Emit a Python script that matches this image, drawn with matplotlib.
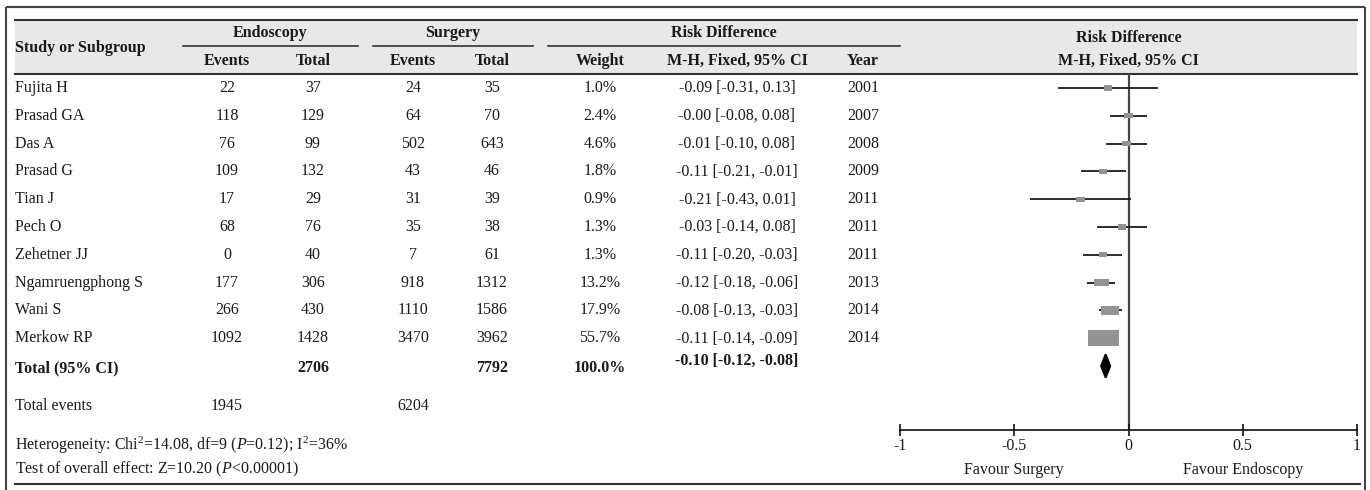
import matplotlib
matplotlib.use("Agg")
import matplotlib.pyplot as plt
from matplotlib.patches import Rectangle, Polygon

plt.rcParams['font.family'] = ['Liberation Serif', 'DejaVu Serif']
plt.rcParams['axes.unicode_minus'] = False
plt.rcParams['mathtext.fontset'] = 'custom'
plt.rcParams['mathtext.rm'] = 'Liberation Serif'
plt.rcParams['mathtext.it'] = 'Liberation Serif:italic'
plt.rcParams['mathtext.bf'] = 'Liberation Serif:bold'

# ---------------- data ----------------
studies = ["Fujita H", "Prasad GA", "Das A", "Prasad G", "Tian J", "Pech O",
           "Zehetner JJ", "Ngamruengphong S", "Wani S", "Merkow RP"]
endo_events = [22, 118, 76, 109, 17, 68, 0, 177, 266, 1092]
endo_total = [37, 129, 99, 132, 29, 76, 40, 306, 430, 1428]
surg_events = [24, 64, 502, 43, 31, 35, 7, 918, 1110, 3470]
surg_total = [35, 70, 643, 46, 39, 38, 61, 1312, 1586, 3962]
weights = [1.0, 2.4, 4.6, 1.8, 0.9, 1.3, 1.3, 13.2, 17.9, 55.7]
rd = [-0.09, -0.00, -0.01, -0.11, -0.21, -0.03, -0.11, -0.12, -0.08, -0.11]
ci_low = [-0.31, -0.08, -0.10, -0.21, -0.43, -0.14, -0.20, -0.18, -0.13, -0.14]
ci_high = [0.13, 0.08, 0.08, -0.01, 0.01, 0.08, -0.03, -0.06, -0.03, -0.09]
years = [2001, 2007, 2008, 2009, 2011, 2011, 2011, 2013, 2014, 2014]

total_endo = 2706
total_surg = 7792
total_weight = "100.0%"
total_rd = -0.10
total_low = -0.12
total_high = -0.08
total_events_endo = 1945
total_events_surg = 6204
heterogeneity = r"Heterogeneity: Chi$^2$=14.08, df=9 ($P$=0.12); I$^2$=36%"
overall = r"Test of overall effect: Z=10.20 ($P$<0.00001)"

tick_values = [-1, -0.5, 0, 0.5, 1]
tick_labels = ["-1", "-0.5", "0", "0.5", "1"]
favour_left = "Favour Surgery"
favour_right = "Favour Endoscopy"

# ---------------- layout ----------------
W, H = 1370, 490
fig = plt.figure(figsize=(W / 100, H / 100), dpi=100)
ax0 = fig.add_axes([0, 0, 1, 1])
ax0.set_xlim(0, W)
ax0.set_ylim(H, 0)
ax0.axis('off')

FS = 11.5
TXT = '#1a1a1a'
LINE = '#333333'

row0, dy = 88, 27.8
def row_y(i):
    return row0 + dy * i

# outer frame
ax0.plot([6, 6], [7, H], color='#444444', lw=1.5, solid_capstyle='butt')
ax0.plot([6, 1365], [7, 7], color='#444444', lw=1.5, solid_capstyle='butt')
ax0.plot([1365, 1365], [7, H], color='#444444', lw=1.5, solid_capstyle='butt')

# header band
HB_TOP, HB_BOT = 20, 74
ax0.add_patch(Rectangle((15, HB_TOP), 1342, HB_BOT - HB_TOP, facecolor='#e8e8e8', edgecolor='none'))
ax0.plot([15, 1357], [HB_TOP, HB_TOP], color=LINE, lw=1.5)
ax0.plot([15, 1357], [HB_BOT, HB_BOT], color=LINE, lw=1.5)
ax0.plot([15, 1360], [484, 484], color=LINE, lw=1.5)

# group underlines
ax0.plot([183, 358], [46, 46], color=LINE, lw=1.2)
ax0.plot([373, 533], [46, 46], color=LINE, lw=1.2)
ax0.plot([548, 900], [46, 46], color=LINE, lw=1.2)

# column x centers
x_name = 15
x_ee, x_et, x_se, x_st = 227, 313, 413, 492
x_w, x_ci, x_yr = 600, 737, 863

hb = dict(fontsize=FS, fontweight='bold', color=TXT, va='center', ha='center')
ax0.text(x_name, 48, "Study or Subgroup", **{**hb, 'ha': 'left'})
ax0.text((183 + 358) / 2, 33, "Endoscopy", **hb)
ax0.text((373 + 533) / 2, 33, "Surgery", **hb)
ax0.text((548 + 900) / 2, 33, "Risk Difference", **hb)
for x, s in [(x_ee, "Events"), (x_et, "Total"), (x_se, "Events"), (x_st, "Total"),
             (x_w, "Weight"), (x_ci, "M-H, Fixed, 95% CI"), (x_yr, "Year")]:
    ax0.text(x, 61, s, **hb)
ax0.text(1128.5, 38, "Risk Difference", **hb)
ax0.text(1128.5, 61, "M-H, Fixed, 95% CI", **hb)

# body rows
nb = dict(fontsize=FS, color=TXT, va='center', ha='center')
for i, name in enumerate(studies):
    y = row_y(i)
    ax0.text(x_name, y, name, **{**nb, 'ha': 'left'})
    ax0.text(x_ee, y, str(endo_events[i]), **nb)
    ax0.text(x_et, y, str(endo_total[i]), **nb)
    ax0.text(x_se, y, str(surg_events[i]), **nb)
    ax0.text(x_st, y, str(surg_total[i]), **nb)
    ax0.text(x_w, y, f"{weights[i]:.1f}%", **nb)
    ax0.text(x_ci, y, f"{rd[i]:.2f} [{ci_low[i]:.2f}, {ci_high[i]:.2f}]", **nb)
    ax0.text(x_yr, y, str(years[i]), **nb)

# total row
yt = 368
bb = dict(fontsize=FS, fontweight='bold', color=TXT, va='center', ha='center')
ax0.text(x_name, yt, "Total (95% CI)", **{**bb, 'ha': 'left'})
ax0.text(x_et, yt, str(total_endo), **bb)
ax0.text(x_st, yt, str(total_surg), **bb)
ax0.text(x_w, yt, total_weight, **bb)
ax0.text(x_ci, yt - 7, f"{total_rd:.2f} [{total_low:.2f}, {total_high:.2f}]", **bb)

# footer rows
ax0.text(x_name, 406, "Total events", **{**nb, 'ha': 'left'})
ax0.text(x_ee, 406, str(total_events_endo), **nb)
ax0.text(x_se, 406, str(total_events_surg), **nb)
ax0.text(x_name, 445, heterogeneity, **{**nb, 'ha': 'left'})
ax0.text(x_name, 469, overall, **{**nb, 'ha': 'left'})

# ---------------- forest plot ----------------
px_left, px_right, px_top, px_axis = 900, 1357, HB_BOT, 430
axf = fig.add_axes([px_left / W, (H - px_axis) / H,
                    (px_right - px_left) / W, (px_axis - px_top) / H])
axf.set_xlim(-1, 1)
axf.set_ylim((px_axis - row0) / dy, (px_top - row0) / dy)
axf.patch.set_alpha(0)
for s in ['top', 'left', 'right']:
    axf.spines[s].set_visible(False)
axf.spines['bottom'].set_color('#111111')
axf.spines['bottom'].set_linewidth(1.2)
axf.set_yticks([])
axf.set_xticks(tick_values)
axf.set_xticklabels(tick_labels)
axf.tick_params(axis='x', direction='inout', length=9, width=1.2,
                colors='#111111', labelsize=FS, pad=1.5, labelcolor=TXT)

axf.axvline(0, color='#444444', lw=1.6, zorder=1)

for i in range(len(studies)):
    axf.plot([ci_low[i], ci_high[i]], [i, i], color='#1a1a1a', lw=1.3,
             solid_capstyle='butt', zorder=2)
    s = (weights[i] / max(weights)) ** 0.5
    bw = max(0.136 * s, 0.036)
    bh = max(0.575 * s, 0.19)
    axf.add_patch(Rectangle((rd[i] - bw / 2, i - bh / 2), bw, bh,
                            facecolor='#939393', edgecolor='none', zorder=3))

ti = len(studies)
axf.add_patch(Polygon([[total_low, ti], [total_rd, ti - 0.42],
                       [total_high, ti], [total_rd, ti + 0.42]],
                      closed=True, facecolor='black', edgecolor='black', lw=1.4,
                      joinstyle='miter', zorder=4))

axf.annotate(favour_left, xy=(-0.5, 0), xycoords=('data', 'axes fraction'),
             xytext=(0, -29), textcoords='offset points', ha='center', va='center',
             fontsize=FS, color=TXT, annotation_clip=False)
axf.annotate(favour_right, xy=(0.5, 0), xycoords=('data', 'axes fraction'),
             xytext=(0, -29), textcoords='offset points', ha='center', va='center',
             fontsize=FS, color=TXT, annotation_clip=False)

fig.savefig("out.png", dpi=100)
